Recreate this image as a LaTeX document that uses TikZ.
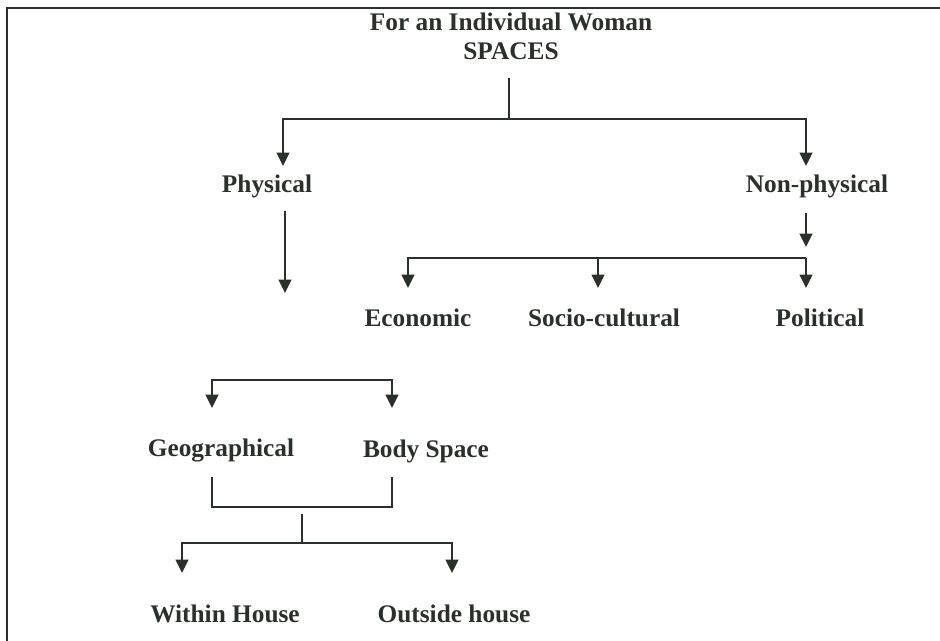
\documentclass[tikz,border=0pt]{standalone}
\usepackage{fontspec}
\setmainfont{Liberation Serif}
\usetikzlibrary{arrows.meta}
\definecolor{ink}{RGB}{42,48,42}
\tikzset{
    every node/.style={font=\fontsize{19}{22}\selectfont\bfseries, text=ink,
        inner sep=1pt},
    conn/.style={draw=ink, line width=1.4pt},
    arr/.style={conn, -{Triangle[width=9.5pt,length=10pt]}}
}

\begin{document}
\begin{tikzpicture}[x=0.75pt, y=-0.75pt]
  \useasboundingbox (0,0) rectangle (940,641);
  \draw[conn, line width=1pt] (940,8) -- (7,8) -- (7,641);

  \node (who) at (511, 22) {For an Individual Woman};
  \node (spaces) at (511, 51) {SPACES};

  \node (phys) at (267, 186) {Physical};
  \node (nonphys) at (817, 186) {Non-physical};

  \node (econ) at (418, 318) {Economic};
  \node (socio) at (604, 318) {Socio-cultural};
  \node (polit) at (820, 318) {Political};

  \node (geo) at (221, 451) {Geographical};
  \node (body) at (426, 451) {Body Space};

  \node (within) at (225, 614) {Within House};
  \node (outside) at (454, 614) {Outside house};

  % first split
  \coordinate (s1) at (509, 78);
  \coordinate (j1) at (509, 119);
  \coordinate (t1) at (283, 166);
  \coordinate (t2) at (806, 166);
  \draw[conn] (s1) -- (j1);
  \draw[arr] (j1) -| (t1);
  \draw[arr] (j1) -| (t2);

  % physical
  \coordinate (p1) at (285, 211);
  \coordinate (p2) at (285, 293);
  \draw[arr] (p1) -- (p2);

  % non-physical
  \coordinate (n1) at (806, 213);
  \coordinate (n2) at (806, 247);
  \coordinate (j2) at (806, 258);
  \draw[arr] (n1) -- (n2);
  \draw[arr] (j2) -| (408, 288) coordinate (te);
  \draw[arr] (598, 258) -- (598, 288) coordinate (ts);
  \draw[arr] (j2) -- (806, 288) coordinate (tp);

  % geographical / body space
  \coordinate (j3) at (302, 380);
  \draw[arr] (j3) -| (212, 408) coordinate (tg);
  \draw[arr] (j3) -| (392, 408) coordinate (tb);

  \coordinate (g1) at (212, 477);
  \coordinate (b1) at (392, 477);
  \draw[conn] (g1) |- (302, 507) -| (b1);

  \coordinate (s2) at (302, 514);
  \coordinate (j4) at (302, 543);
  \draw[conn] (s2) -- (j4);
  \draw[arr] (j4) -| (182, 573) coordinate (tw);
  \draw[arr] (j4) -| (452, 573) coordinate (to);
\end{tikzpicture}
\end{document}
